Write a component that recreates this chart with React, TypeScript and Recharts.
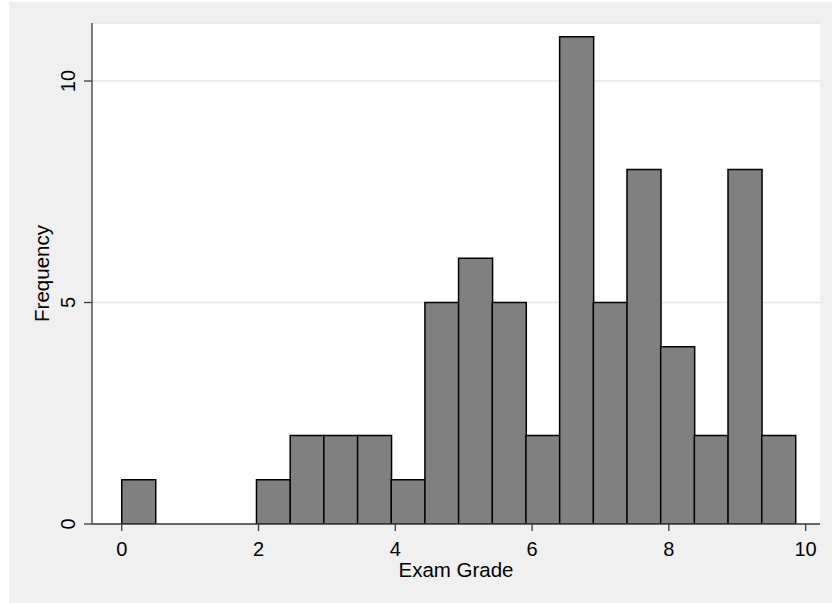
import React from 'react';
import { BarChart, Bar, XAxis, YAxis, CartesianGrid, Label } from 'recharts';

// histogram bins (bin mid points) and counts
const binMids = [
  0.246, 0.739, 1.231, 1.724, 2.216, 2.709, 3.201, 3.694, 4.186, 4.679,
  5.171, 5.664, 6.156, 6.649, 7.141, 7.634, 8.126, 8.619, 9.111, 9.604,
];
const counts = [1, 0, 0, 0, 1, 2, 2, 2, 1, 5, 6, 5, 2, 11, 5, 8, 4, 2, 8, 2];
const xTicks = [0, 2, 4, 6, 8, 10];
const yTicks = [0, 5, 10];

const data = binMids.map((mid, i) => ({ mid, freq: counts[i] }));

const FONT = '"Liberation Sans", Arial, Helvetica, sans-serif';
const AXIS = '#3a3a3a';

const XTick = (props: any) => {
  const { x, y, payload } = props;
  return (
    <text x={x} y={y} dy={25} textAnchor="middle" fontSize={20} fontFamily={FONT} fill="#000">
      {payload.value}
    </text>
  );
};

const YTick = (props: any) => {
  const { x, y, payload } = props;
  const tx = x - 9;
  return (
    <text
      x={tx}
      y={y}
      transform={`rotate(-90, ${tx}, ${y})`}
      textAnchor="middle"
      fontSize={20}
      fontFamily={FONT}
      fill="#000"
    >
      {payload.value}
    </text>
  );
};

const XTitle = (props: any) => {
  const { viewBox } = props;
  return (
    <text x={viewBox.x + viewBox.width / 2} y={viewBox.y + 53} textAnchor="middle" fontSize={20.5} fontFamily={FONT} fill="#000">
      Exam Grade
    </text>
  );
};

const YTitle = (props: any) => {
  const { viewBox } = props;
  const tx = viewBox.x + 40;
  const ty = viewBox.y + viewBox.height / 2;
  return (
    <text x={tx} y={ty} transform={`rotate(-90, ${tx}, ${ty})`} textAnchor="middle" fontSize={20.5} fontFamily={FONT} fill="#000">
      Frequency
    </text>
  );
};

export default function App() {
  return (
    <div style={{ position: 'absolute', left: 9, top: 2, width: 823, height: 601, background: '#f0f0f0' }}>
      <BarChart
        width={823}
        height={601}
        data={data}
        margin={{ top: 21, right: 12, bottom: 0, left: 0 }}
        barCategoryGap={0}
        barGap={0}
      >
        <CartesianGrid vertical={false} stroke="#e6e6e6" strokeWidth={1.5} fill="#ffffff" />
        <XAxis
          dataKey="mid"
          type="number"
          domain={[-0.435, 10.21]}
          allowDataOverflow
          ticks={xTicks}
          height={79}
          tickSize={7}
          tickMargin={0}
          stroke={AXIS}
          strokeWidth={1.3}
          tick={<XTick />}
          label={<Label content={<XTitle />} />}
        />
        <YAxis
          type="number"
          domain={[0, 11.31]}
          allowDataOverflow
          ticks={yTicks}
          width={83}
          tickSize={8}
          tickMargin={0}
          stroke={AXIS}
          strokeWidth={1.3}
          tick={<YTick />}
          label={<Label content={<YTitle />} />}
        />
        <Bar dataKey="freq" fill="#808080" stroke="#000" strokeWidth={1.5} isAnimationActive={false} />
      </BarChart>
    </div>
  );
}
